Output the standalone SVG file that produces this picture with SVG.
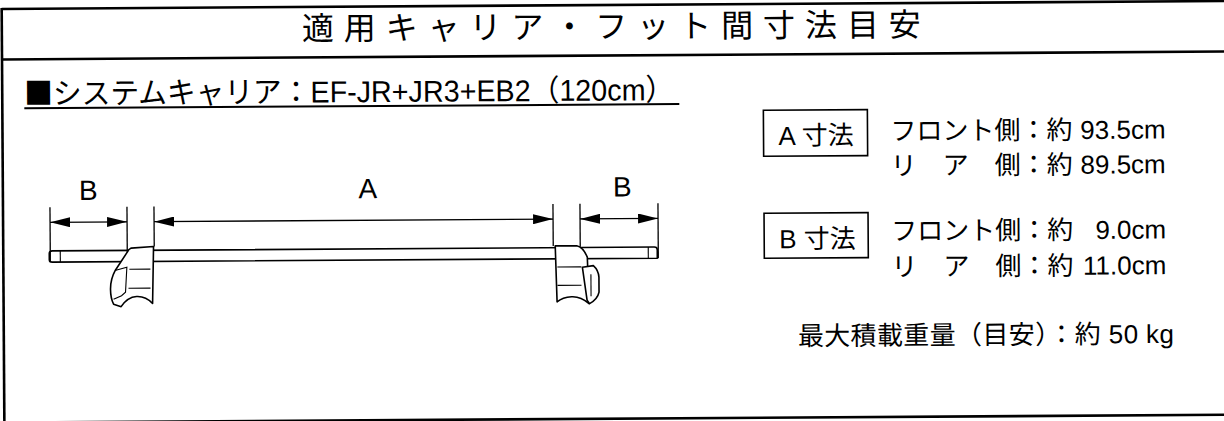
<svg xmlns="http://www.w3.org/2000/svg" width="1224" height="421" viewBox="0 0 1224 421">
<style>
.frame{stroke:#000;stroke-width:2.6;fill:none}
.t{font-family:"Liberation Sans","Noto Sans CJK JP",sans-serif;fill:#000}
.cjk{font-family:"Noto Sans CJK JP","Liberation Sans",sans-serif;fill:#000}
.ln{stroke:#000;stroke-width:1.3;fill:none}
.part{stroke:#000;stroke-width:1.6;fill:#fff;stroke-linejoin:round}
.thin{stroke:#000;stroke-width:1.1;fill:none}
.dim{stroke:#000;stroke-width:1.3;fill:none;marker-start:url(#ah);marker-end:url(#ah)}
.box{stroke:#000;stroke-width:1.6;fill:none}
</style>
<defs>
<marker id="ah" markerUnits="userSpaceOnUse" markerWidth="20" markerHeight="10" refX="20" refY="5" orient="auto-start-reverse" viewBox="0 0 20 10"><path d="M0,0 L20,5 L0,10 z" fill="#000"/></marker>
</defs>
<rect width="1224" height="421" fill="#fff"/>
<g transform="rotate(-0.37 612 210)">
<g id="frame" class="frame">
<line x1="3" y1="5" x2="1240" y2="5"/>
<line x1="3" y1="55.5" x2="1240" y2="55.5"/>
<line x1="3" y1="4" x2="3" y2="440"/>
<line x1="3" y1="418.7" x2="1240" y2="418.7"/>
</g>
<g id="title">
<text class="cjk" x="303" y="38" font-size="32" textLength="619" lengthAdjust="spacing">適用キャリア・フット間寸法目安</text>
</g>
<g id="subtitle">
<text class="t" x="25" y="100.5" font-size="30" textLength="650" lengthAdjust="spacingAndGlyphs"><tspan class="cjk">■</tspan>システムキャリア：EF-JR+JR3+EB2（120cm）</text>
<line x1="25" y1="104.5" x2="680" y2="104.5" stroke="#000" stroke-width="2"/>
</g>
<g id="carrier">
<g id="bar">
<path class="part" d="M52,247.3 H654 Q657,247.3 657,250 V258.5 H52 Q49,258.5 49,256 V250 Q49,247.3 52,247.3 Z"/>
<line class="thin" x1="60" y1="247.3" x2="60" y2="258.5"/>
<line class="thin" x1="648" y1="247.3" x2="648" y2="258.5"/>
</g>
<g id="foot-left">
<path class="part" d="M131,245 L153.3,243.5 L152,300.5 Q145,293 136,293.5 Q127,294 120.5,303.5 L113,301 Q110,295 110,286 Q110,276 115,267 L127,249 Q128.5,246 131,245 Z"/>
<path class="thin" d="M115.5,267 L126.5,264 L125,289 L121,292.5 L113,296"/>
<line class="thin" x1="129" y1="266.1" x2="150" y2="266.1"/>
<line class="thin" x1="128" y1="285.1" x2="150" y2="285.1"/>
</g>
<g id="foot-right">
<path class="part" d="M555,245.5 H576.5 Q583,247 587,257 L588.5,303.5 Q580,296 571,296.5 Q562,297 556.5,301.5 L555,245.5 Z"/>
<path class="part" d="M582,267 L593,265.5 Q598,270 598.5,277 L598.5,292 Q597,299 589,303.5 L586.5,300 Z"/>
<line class="thin" x1="590.5" y1="274" x2="590.5" y2="296"/>
<line class="thin" x1="557" y1="266.7" x2="581" y2="266.7"/>
<line class="thin" x1="557" y1="285" x2="581" y2="285"/>
</g>
</g>
<g id="connectors">
<line class="ln" x1="50" y1="203.5" x2="50" y2="258.5"/>
<line class="ln" x1="127" y1="203.5" x2="127" y2="249"/>
<line class="ln" x1="154" y1="203.5" x2="154" y2="243.5"/>
<line class="ln" x1="553" y1="203.5" x2="553" y2="245.5"/>
<line class="ln" x1="580" y1="203.5" x2="580" y2="246.5"/>
<line class="ln" x1="658" y1="203.5" x2="658" y2="258.5"/>
<line class="dim" x1="50" y1="218.7" x2="127" y2="218.7"/>
<line class="dim" x1="154" y1="218.7" x2="553" y2="218.7"/>
<line class="dim" x1="580" y1="218.7" x2="658" y2="218.7"/>
</g>
<g id="label-b-left"><text class="t" x="88.5" y="196.5" font-size="28" text-anchor="middle">B</text></g>
<g id="label-a"><text class="t" x="368" y="196.5" font-size="28" text-anchor="middle">A</text></g>
<g id="label-b-right"><text class="t" x="622.5" y="196.5" font-size="28" text-anchor="middle">B</text></g>
<g id="spec-a">
<rect class="box" x="764" y="111.3" width="104" height="46"/>
<text class="t" x="779" y="146" font-size="26">A <tspan class="cjk">寸法</tspan></text>
<text class="t" y="142" font-size="26"><tspan class="cjk" x="891">フロント側：約</tspan><tspan x="1166" text-anchor="end"> 93.5cm</tspan></text>
<text class="t" y="176.7" font-size="26"><tspan class="cjk" x="891">リ　ア　側：約</tspan><tspan x="1166" text-anchor="end"> 89.5cm</tspan></text>
</g>
<g id="spec-b">
<rect class="box" x="764" y="214.3" width="104" height="45"/>
<text class="t" x="779" y="249.3" font-size="26">B <tspan class="cjk">寸法</tspan></text>
<text class="t" y="242" font-size="26"><tspan class="cjk" x="891">フロント側：約</tspan><tspan x="1166" text-anchor="end"> 9.0cm</tspan></text>
<text class="t" y="277.7" font-size="26"><tspan class="cjk" x="891">リ　ア　側：約</tspan><tspan x="1166" text-anchor="end"> 11.0cm</tspan></text>
</g>
<g id="max-load">
<text class="t" x="797" y="346.5" font-size="26" textLength="376" lengthAdjust="spacing"><tspan class="cjk">最大積載重量（目安）：約</tspan> 50 kg</text>
</g>
</g>
</svg>
